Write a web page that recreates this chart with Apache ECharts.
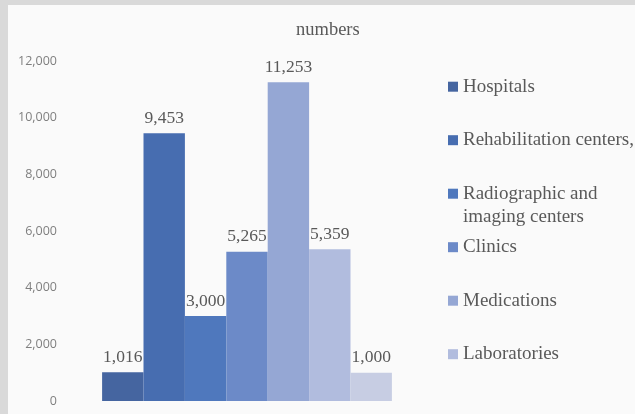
<!DOCTYPE html>
<html>
<head>
<meta charset="utf-8">
<script src="https://cdn.jsdelivr.net/npm/echarts@6/dist/echarts.min.js"></script>
<style>
    html, body { margin: 0; padding: 0; background: #d9d9d9; width: 635px; height: 414px; overflow: hidden; }
    .bar1 { position: absolute; left: 8px; top: 5px; width: 627px; height: 409px; background: #fafafa; }
    .bar1 .chart { width: 100%; height: 100%; }
</style>
</head>
<body>
<div class="bar1"><div class="chart"></div></div>
<script>
// 数据
var names = ['Hospitals', 'Rehabilitation centers,', 'Radiographic and imaging centers', 'Clinics', 'Medications', 'Laboratories', 'Other'];
var values = [1016, 9453, 3000, 5265, 11253, 5359, 1000];
var colors = ['#4565a0', '#476db0', '#4f78bd', '#6c8ac8', '#95a7d4', '#b1bcde', '#c7cde3'];
var yTicks = [0, 2000, 4000, 6000, 8000, 10000, 12000];
var legendNames = names.slice(0, 6);

function comma(v) {
    return String(v).replace(/\B(?=(\d{3})+(?!\d))/g, ',');
}

// 图1
(function(){
    // 实例化对象
    var myChart = echarts.init(document.querySelector('.bar1 .chart'))
    var series = names.map(function(name, i){
        return {
            name: name,
            type: 'bar',
            barWidth: 41.4,
            barGap: '0%',
            itemStyle: { color: colors[i] },
            label: {
                show: true,
                position: 'top',
                distance: 6,
                fontFamily: 'Liberation Serif',
                fontSize: 17.5,
                color: '#595959',
                formatter: function(p){ return comma(p.value); }
            },
            data: [values[i]]
        };
    });
    // 指定配置和数据
    var option = {
        animation: false,
        title: {
            text: 'numbers',
            left: 288,
            top: 16,
            padding: 0,
            textStyle: {
                fontFamily: 'Liberation Serif',
                fontSize: 18.5,
                fontWeight: 'normal',
                color: '#595959'
            }
        },
        legend: {
            orient: 'vertical',
            left: 440,
            top: 70.7,
            padding: 0,
            itemGap: 31.5,
            itemWidth: 10,
            itemHeight: 10,
            icon: 'rect',
            data: legendNames,
            formatter: function(name){
                return name === names[2] ? 'Radiographic and' : name;
            },
            textStyle: {
                fontFamily: 'Liberation Serif',
                fontSize: 19,
                lineHeight: 22,
                color: '#595959'
            }
        },
        graphic: [{
            type: 'text',
            left: 455,
            top: 201.5,
            style: {
                text: 'imaging centers',
                fontFamily: 'Liberation Serif',
                fontSize: 19,
                lineHeight: 22,
                fill: '#595959'
            }
        }],
        grid: {
            left: 57,
            right: 206,
            top: 56,
            bottom: 13
        },
        xAxis: {
            type: 'category',
            data: ['numbers'],
            axisLine: { show: false },
            axisTick: { show: false },
            axisLabel: { show: false }
        },
        yAxis: {
            type: 'value',
            min: yTicks[0],
            max: yTicks[yTicks.length - 1],
            interval: 2000,
            axisLine: { show: false },
            axisTick: { show: false },
            splitLine: { show: false },
            axisLabel: {
                margin: 8,
                fontFamily: 'Open Sans',
                fontSize: 12.5,
                color: '#7f7f7f',
                formatter: function(v){ return comma(v); }
            }
        },
        series: series
    };
    // 配置项给实例对象
    myChart.setOption(option);
})();
</script>
</body>
</html>
